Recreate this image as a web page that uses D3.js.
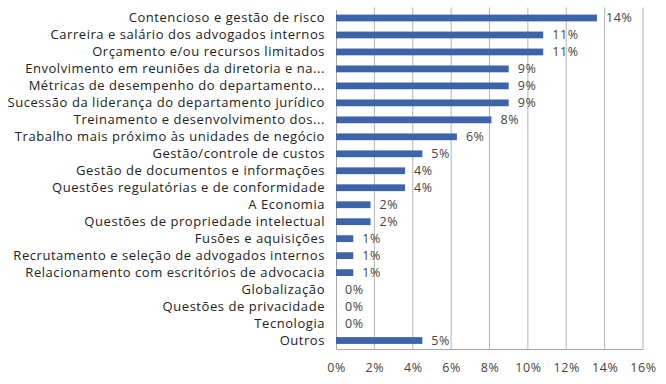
<!DOCTYPE html>
<html>
<head>
<meta charset="utf-8">
<script src="https://cdn.jsdelivr.net/npm/d3@7"></script>
<style>
  body { margin: 0; background: #fff; }
  text { font-family: "Open Sans", Lato, sans-serif; fill: #333; }
</style>
</head>
<body>
<div id="chart"></div>
<script>
const width = 666;
const height = 384;

const categories = [
    'Contencioso e gestão de risco',
    'Carreira e salário dos advogados internos',
    'Orçamento e/ou recursos limitados',
    'Envolvimento em reuniões da diretoria e na...',
    'Métricas de desempenho do departamento...',
    'Sucessão da liderança do departamento jurídico',
    'Treinamento e desenvolvimento dos...',
    'Trabalho mais próximo às unidades de negócio',
    'Gestão/controle de custos',
    'Gestão de documentos e informações',
    'Questões regulatórias e de conformidade',
    'A Economia',
    'Questões de propriedade intelectual',
    'Fusões e aquisições',
    'Recrutamento e seleção de advogados internos',
    'Relacionamento com escritórios de advocacia',
    'Globalização',
    'Questões de privacidade',
    'Tecnologia',
    'Outros'
];
const values = [13.6, 10.8, 10.8, 9.0, 9.0, 9.0, 8.1, 6.3, 4.5, 3.6, 3.6, 1.8, 1.8, 0.9, 0.9, 0.9, 0, 0, 0, 4.5];
const valueLabels = ['14%', '11%', '11%', '9%', '9%', '9%', '8%', '6%', '5%', '4%', '4%', '2%', '2%', '1%', '1%', '1%', '0%', '0%', '0%', '5%'];
const ticks = [0, 2, 4, 6, 8, 10, 12, 14, 16];

const margin = {top: 9.5, left: 336, right: 23, bottom: 35};
const data = categories.map((c, i) => ({name: c, value: values[i], label: valueLabels[i]}));

const svg = d3.select('#chart')
    .append('svg')
    .attr('width', width)
    .attr('height', height);

const x = d3.scaleLinear()
    .domain([0, 16])
    .range([margin.left, width - margin.right]);

const y = d3.scaleBand()
    .domain(categories)
    .range([margin.top, height - margin.bottom])
    .paddingInner(0.6)
    .paddingOuter(0.3);

// gridlines
svg.append('g')
    .selectAll('line')
    .data(ticks.slice(1))
    .enter()
    .append('line')
    .attr('x1', d => x(d))
    .attr('x2', d => x(d))
    .attr('y1', margin.top - 2)
    .attr('y2', height - margin.bottom)
    .style('stroke', '#b4b4b4')
    .style('stroke-width', 1);

// x axis
const xAxis = svg.append('g')
    .attr('transform', `translate(0,${height - margin.bottom})`)
    .call(d3.axisBottom(x).tickValues(ticks).tickSize(0).tickPadding(14).tickFormat(d => d + '%'));
xAxis.select('.domain').style('stroke', '#a8a8a8');
xAxis.selectAll('text').style('font-size', '12.5px').style('fill', '#444').style('letter-spacing', '0.6px');

// y axis
const yAxis = svg.append('g')
    .attr('transform', `translate(${margin.left},0)`)
    .call(d3.axisLeft(y).tickSize(0).tickPadding(11));
yAxis.select('.domain').style('stroke', '#a8a8a8');
yAxis.selectAll('text').style('font-size', '13px').style('fill', '#222').style('letter-spacing', '0.55px');

// bars
svg.append('g')
    .selectAll('rect')
    .data(data)
    .enter()
    .append('rect')
    .attr('x', x(0))
    .attr('y', d => y(d.name))
    .attr('width', d => x(d.value) - x(0))
    .attr('height', y.bandwidth())
    .style('fill', '#3d64a9');

// value labels
svg.append('g')
    .selectAll('text')
    .data(data)
    .enter()
    .append('text')
    .attr('x', d => x(d.value) + 9)
    .attr('y', d => y(d.name) + y.bandwidth() / 2)
    .attr('dy', '0.35em')
    .style('font-size', '12.5px')
    .style('fill', '#444')
    .style('letter-spacing', '0.6px')
    .text(d => d.label);
</script>
</body>
</html>
